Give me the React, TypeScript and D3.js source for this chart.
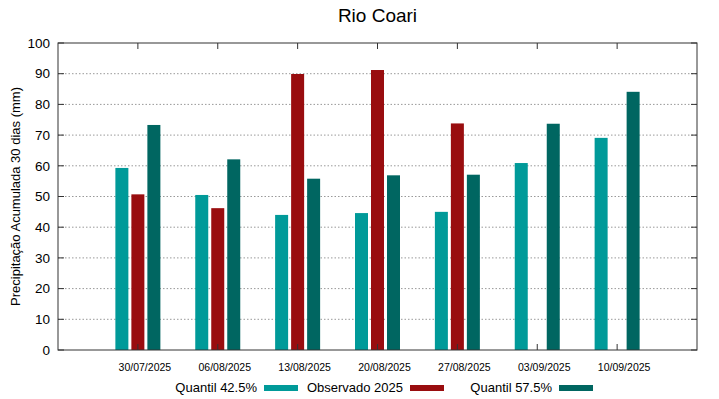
import React from 'react';
import * as d3 from 'd3';

const categories = ['30/07/2025', '06/08/2025', '13/08/2025', '20/08/2025', '27/08/2025', '03/09/2025', '10/09/2025'];
const quantil425 = [59.3, 50.5, 44.0, 44.6, 45.0, 60.9, 69.1];
const observado = [50.7, 46.2, 89.9, 91.2, 73.8, null, null];
const quantil575 = [73.3, 62.1, 55.8, 56.9, 57.1, 73.7, 84.1];
const yTicks = [0, 10, 20, 30, 40, 50, 60, 70, 80, 90, 100];

const series = [
  { name: 'Quantil 42.5%', values: quantil425, color: '#009a99', offset: -1 },
  { name: 'Observado 2025', values: observado, color: '#990d0f', offset: 0 },
  { name: 'Quantil 57.5%', values: quantil575, color: '#006661', offset: 1 },
];

const W = 719;
const H = 399;
const margin = { top: 43, right: 22, bottom: 49, left: 58 };
const font = 'Liberation Sans, Arial, sans-serif';

export default function App() {
  const x = d3.scaleLinear().domain([-1, 7]).range([margin.left, W - margin.right]);
  const y = d3.scaleLinear().domain([0, 100]).range([H - margin.bottom, margin.top]);
  const barW = 13;
  const step = 16;
  const legendX = [257, 403, 552];

  return (
    <svg width={W} height={H} style={{ position: 'absolute', left: 0, top: 0 }} fontFamily={font}>
      <rect width={W} height={H} fill="#fff" />
      <text x={(x(-1) + x(7)) / 2} y={22} textAnchor="middle" fontSize={19}>Rio Coari</text>

      {/* grid */}
      {yTicks.filter(t => t > 0 && t < 100).map(t => (
        <line key={t} x1={x(-1)} x2={x(7)} y1={y(t)} y2={y(t)} stroke="#999" strokeWidth={1} strokeDasharray="1.5,2" />
      ))}

      {/* bars */}
      {series.map(s => s.values.map((v, i) => v == null ? null : (
        <rect key={s.name + i} x={x(i) + s.offset * step - barW / 2} y={y(v)} width={barW} height={y(0) - y(v)} fill={s.color} />
      )))}

      {/* frame */}
      <rect x={x(-1)} y={y(100)} width={x(7) - x(-1)} height={y(0) - y(100)} fill="none" stroke="#333" strokeWidth={1} />
      {yTicks.map(t => (
        <g key={t}>
          <line x1={x(-1)} x2={x(-1) + 6} y1={y(t)} y2={y(t)} stroke="#333" />
          <line x1={x(7)} x2={x(7) - 6} y1={y(t)} y2={y(t)} stroke="#333" />
          <text x={x(-1) - 8} y={y(t)} dy="0.35em" textAnchor="end" fontSize={13.5}>{t}</text>
        </g>
      ))}
      {categories.map((c, i) => (
        <g key={c}>
          <line x1={x(i)} x2={x(i)} y1={y(0)} y2={y(0) - 6} stroke="#333" />
          <line x1={x(i)} x2={x(i)} y1={y(100)} y2={y(100) + 6} stroke="#333" />
          <text x={x(i) + 7} y={371} textAnchor="middle" fontSize={10.5}>{c}</text>
        </g>
      ))}

      <text transform={`translate(20,${(y(0) + y(100)) / 2}) rotate(-90)`} textAnchor="middle" fontSize={13}>
        Precipitação Acumulada 30 dias (mm)
      </text>

      {/* legend */}
      {series.map((s, i) => (
        <g key={s.name}>
          <text x={legendX[i]} y={392} textAnchor="end" fontSize={13}>{s.name}</text>
          <rect x={legendX[i] + 7} y={385} width={34} height={6} fill={s.color} />
        </g>
      ))}
    </svg>
  );
}
